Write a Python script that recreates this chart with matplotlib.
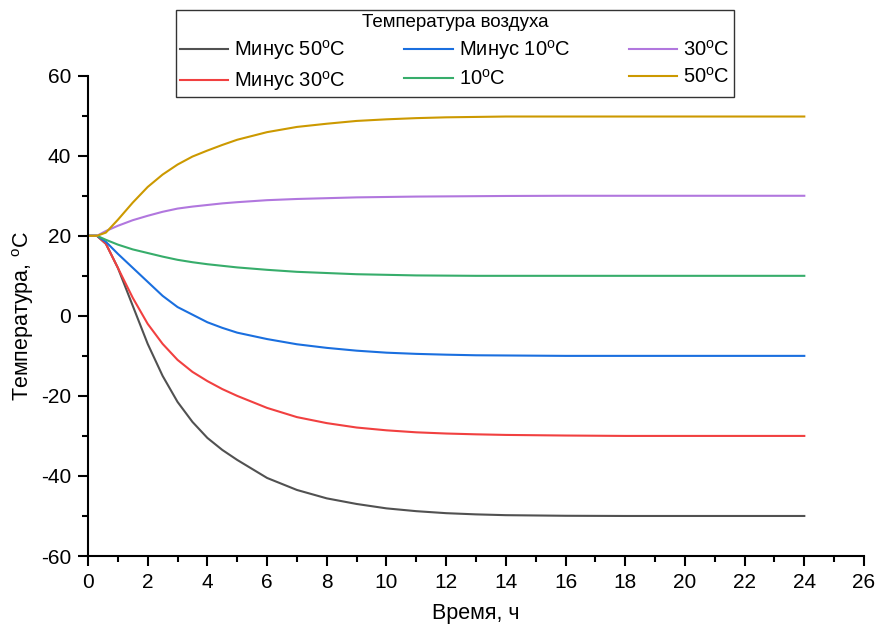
import matplotlib.pyplot as plt
import numpy as np

plt.rcParams['font.family'] = ['Liberation Sans', 'DejaVu Sans']
plt.rcParams['mathtext.fontset'] = 'custom'
plt.rcParams['mathtext.rm'] = 'Liberation Sans'
plt.rcParams['axes.unicode_minus'] = False

# ---------------- данные ----------------
t = [0, 0.3, 0.6, 1, 1.5, 2, 2.5, 3, 3.5, 4, 4.5, 5, 6, 7, 8, 9, 10, 11, 12, 13, 14, 16, 18, 20, 22, 24]

minus50 = [20, 20, 18, 12, 2.5, -7, -15, -21.5, -26.5, -30.5, -33.5, -36, -40.5, -43.5, -45.6, -47,
           -48.1, -48.8, -49.3, -49.6, -49.8, -49.95, -50, -50, -50, -50]
minus30 = [20, 20, 18, 12, 4.5, -2, -7, -11, -14, -16.3, -18.3, -20, -23, -25.3, -26.8, -27.9,
           -28.6, -29.1, -29.4, -29.6, -29.75, -29.9, -30, -30, -30, -30]
minus10 = [20, 20, 18.5, 15.5, 12, 8.5, 5, 2.2, 0.3, -1.6, -3, -4.2, -5.8, -7.1, -8.0, -8.7,
           -9.2, -9.5, -9.7, -9.85, -9.9, -10, -10, -10, -10, -10]
plus10 = [20, 20, 19, 17.8, 16.6, 15.7, 14.8, 14.0, 13.4, 12.9, 12.5, 12.1, 11.5, 11.0, 10.7, 10.4,
          10.25, 10.1, 10.05, 10, 10, 10, 10, 10, 10, 10]
plus30 = [20, 20, 21.2, 22.5, 23.9, 25, 26, 26.8, 27.3, 27.7, 28.1, 28.4, 28.9, 29.2, 29.4, 29.6,
          29.7, 29.8, 29.85, 29.9, 29.95, 30, 30, 30, 30, 30]
plus50 = [20, 20, 20.8, 24, 28.3, 32.2, 35.3, 37.8, 39.8, 41.3, 42.7, 44.0, 45.9, 47.2, 48, 48.7,
          49.1, 49.4, 49.6, 49.7, 49.8, 49.8, 49.8, 49.8, 49.8, 49.8]

series = [minus50, minus30, minus10, plus10, plus30, plus50]
labels = ['Минус 50$^{\\mathregular{o}}$C', 'Минус 30$^{\\mathregular{o}}$C',
          'Минус 10$^{\\mathregular{o}}$C', '10$^{\\mathregular{o}}$C',
          '30$^{\\mathregular{o}}$C', '50$^{\\mathregular{o}}$C']
colors = ['#515151', '#F14040', '#1A6FDF', '#37AD6B', '#B177DE', '#CC9900']

# ---------------- график ----------------
fig = plt.figure(figsize=(8.78, 6.35), dpi=100)
ax = fig.add_axes([88 / 878, 1 - 556 / 635, (864 - 88) / 878, (556 - 75.7) / 635])

for y, lab, c in zip(series, labels, colors):
    ax.plot(t, y, color=c, linewidth=1.5, label=lab)

ax.set_xlim(0, 26)
ax.set_ylim(-60, 60)
ax.set_xticks(np.arange(0, 27, 2))
ax.set_xticks(np.arange(1, 26, 2), minor=True)
ax.set_yticks(np.arange(-60, 61, 20))
ax.set_yticks(np.arange(-50, 51, 20), minor=True)

ax.spines['top'].set_visible(False)
ax.spines['right'].set_visible(False)
for s in ['left', 'bottom']:
    ax.spines[s].set_linewidth(1.5)
ax.tick_params(which='major', direction='out', length=7, width=1.5, labelsize=15, pad=5)
ax.tick_params(which='minor', direction='out', length=4, width=1.5)

ax.set_xlabel('Время, ч', fontsize=15.5, labelpad=8)
ax.set_ylabel('Температура, $^{\\mathregular{o}}$C', fontsize=15.5, labelpad=4)

leg = fig.legend(loc='upper left', bbox_to_anchor=(176 / 878, 1 - 10 / 635), ncol=3,
                 title='Температура воздуха', fontsize=14.5, title_fontsize=13.5,
                 frameon=True, fancybox=False, edgecolor='black', handlelength=2.4,
                 columnspacing=2.9, borderaxespad=0, borderpad=0.2, labelspacing=0.35,
                 handletextpad=0.3)
leg.get_frame().set_linewidth(1.0)

fig.savefig('out.png', dpi=100)
